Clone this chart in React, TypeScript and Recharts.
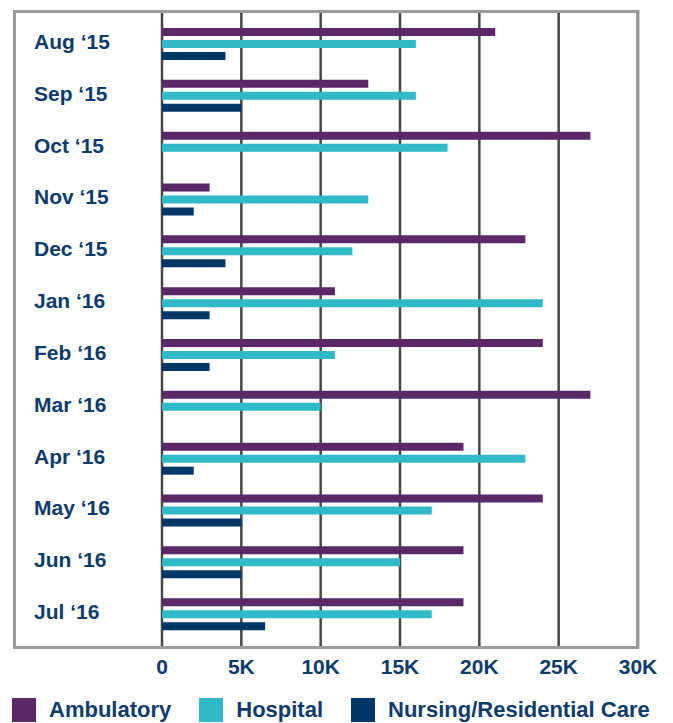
import React from 'react';
import { BarChart, Bar, XAxis, YAxis, CartesianGrid, Legend } from 'recharts';

const months = ['Aug ‘15', 'Sep ‘15', 'Oct ‘15', 'Nov ‘15', 'Dec ‘15', 'Jan ‘16', 'Feb ‘16', 'Mar ‘16', 'Apr ‘16', 'May ‘16', 'Jun ‘16', 'Jul ‘16'];
const ambulatory = [21000, 13000, 27000, 3000, 22900, 10900, 24000, 27000, 19000, 24000, 19000, 19000];
const hospital = [16000, 16000, 18000, 13000, 12000, 24000, 10900, 10000, 22900, 17000, 15000, 17000];
const nursing = [4000, 5000, 0, 2000, 4000, 3000, 3000, 0, 2000, 5000, 5000, 6500];
const xTicks = [0, 5000, 10000, 15000, 20000, 25000, 30000];

const series = [
  { key: 'ambulatory', name: 'Ambulatory', color: '#5a2767' },
  { key: 'hospital', name: 'Hospital', color: '#30bac8' },
  { key: 'nursing', name: 'Nursing/Residential Care', color: '#003767' },
];

const data = months.map((month, i) => ({
  month,
  ambulatory: ambulatory[i],
  hospital: hospital[i],
  nursing: nursing[i],
}));

const font = '"Liberation Sans", Arial, sans-serif';
const navy = '#0f3b6b';

const MonthTick = ({ y, payload }: any) => (
  <text x={34} y={y} dy={5} textAnchor="start" fill={navy} fontSize={21} fontWeight="bold" fontFamily={font}>
    {payload.value}
  </text>
);

const LegendContent = () => (
  <div
    style={{
      height: 35,
      display: 'flex',
      flexWrap: 'nowrap',
      whiteSpace: 'nowrap',
      alignItems: 'flex-start',
      paddingTop: 10,
      boxSizing: 'border-box',
    }}
  >
    {series.map((s) => (
      <div key={s.key} style={{ display: 'flex', alignItems: 'center', marginRight: 28, flexShrink: 0 }}>
        <div style={{ width: 24, height: 24, background: s.color, marginRight: 13 }} />
        <span style={{ color: navy, fontSize: 22, fontWeight: 'bold', fontFamily: font, lineHeight: '24px' }}>{s.name}</span>
      </div>
    ))}
  </div>
);

export default function App() {
  return (
    <div style={{ position: 'absolute', left: 0, top: 0, width: 673, height: 723, overflow: 'hidden', background: '#fff' }}>
      <BarChart
        width={673}
        height={723}
        data={data}
        layout="vertical"
        margin={{ top: 10, right: 35, left: 0, bottom: 0 }}
        barSize={8}
        barGap={4}
      >
        <CartesianGrid horizontal={false} stroke="#474747" strokeWidth={2.5} />
        <XAxis
          type="number"
          domain={[0, 30000]}
          ticks={xTicks}
          tickFormatter={(v: number) => (v === 0 ? '0' : `${v / 1000}K`)}
          axisLine={false}
          tickLine={false}
          tickSize={0}
          tickMargin={11}
          height={40}
          interval={0}
          tick={{ fill: navy, fontSize: 21, fontWeight: 'bold', fontFamily: font }}
        />
        <YAxis
          type="category"
          dataKey="month"
          width={162}
          axisLine={false}
          tickLine={false}
          padding={{ top: 8, bottom: 8 }}
          interval={0}
          tick={<MonthTick />}
        />
        <Legend
          verticalAlign="bottom"
          align="left"
          content={<LegendContent />}
          wrapperStyle={{ left: 12, width: 661 }}
        />
        {series.map((s) => (
          <Bar key={s.key} dataKey={s.key} name={s.name} fill={s.color} isAnimationActive={false} />
        ))}
      </BarChart>
      <div
        style={{
          position: 'absolute',
          left: 13,
          top: 10,
          width: 620,
          height: 633,
          border: '3px solid #9b9b9b',
          pointerEvents: 'none',
        }}
      />
    </div>
  );
}
